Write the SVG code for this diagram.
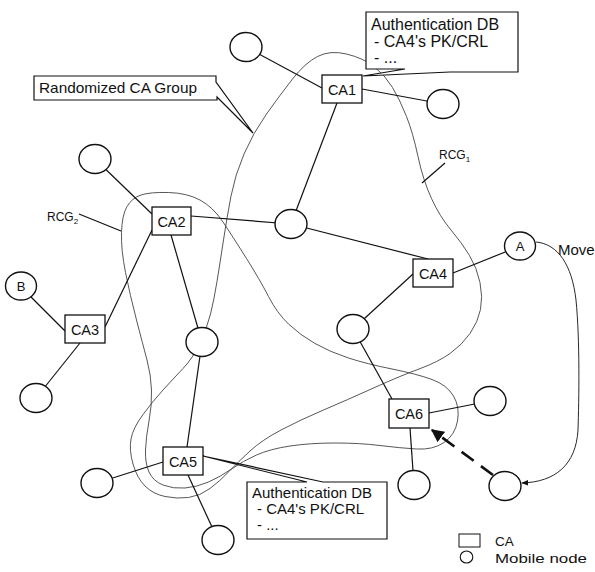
<svg xmlns="http://www.w3.org/2000/svg" width="595" height="572" viewBox="0 0 595 572">
<style>
.bg{fill:#fff}
.grp{fill:none;stroke:#444;stroke-width:0.9}
.edge{stroke:#111;stroke-width:1.2;fill:none}
.node{fill:#fff;stroke:#111;stroke-width:1.4}
.ca{fill:#fff;stroke:#111;stroke-width:1.3}
.call{fill:#fff;stroke:#111;stroke-width:1.2}
text{font-family:"Liberation Sans",Arial,sans-serif;fill:#111}
.lbl{font-size:14.5px;text-anchor:middle}
.db{font-size:15px}
.small{font-size:12px}
</style>
<defs>
<marker id="ah" viewBox="0 0 10 10" refX="9" refY="5" markerWidth="5" markerHeight="5" orient="auto" markerUnits="strokeWidth">
<path d="M0,0 L10,5 L0,10 Z" fill="#111"/>
</marker>
<marker id="ahs" viewBox="0 0 10 10" refX="9" refY="5" markerWidth="7" markerHeight="7" orient="auto" markerUnits="userSpaceOnUse">
<path d="M0,1 L10,5 L0,9 Z" fill="#111"/>
</marker>
</defs>
<rect class="bg" x="0" y="0" width="595" height="572"/>

<g id="groups">
<path id="RCG1" class="grp" d="M317.5,56.5 Q330,50 346.5,54 Q363,58 374,66.5 Q385,75 392.5,87.5 Q400,100 406.5,116.5 Q413,133 418,156.5 Q423,180 431.5,198.5 Q440,217 451,230 Q462,243 469.5,255.5 Q477,268 480,282.5 Q483,297 480.5,309.5 Q478,322 470,333.5 Q462,345 450,353.5 Q438,362 419,369 Q400,376 373.5,388 Q347,400 323.5,410 Q300,420 281,430 Q262,440 250,451 Q238,462 229,471.5 Q220,481 210,488.5 Q200,496 188.5,497.5 Q177,499 165,496.5 Q153,494 145,486 Q137,478 133,464 Q129,450 131,439 Q133,428 143,414.5 Q153,401 163,390 Q173,379 183,368.5 Q193,358 200,343 Q207,328 210.5,314 Q214,300 217,281.5 Q220,263 223.5,240 Q227,217 231,196 Q235,175 244,154 Q253,133 266.5,114 Q280,95 292.5,79 Q305,63 317.5,56.5 Z"/>
<path id="RCG2" class="grp" d="M141,195 Q150,192 168.5,192.5 Q187,193 200,200 Q213,207 223,222 Q233,237 246.5,258.5 Q260,280 268.5,296.5 Q277,313 288.5,324 Q300,335 315,343.5 Q330,352 348.5,358 Q367,364 392,369 Q417,374 432,379.5 Q447,385 453.5,396 Q460,407 457.5,421 Q455,435 444,442.5 Q433,450 416.5,449 Q400,448 380,445.5 Q360,443 335,443 Q310,443 290,446 Q270,449 256.5,455 Q243,461 231.5,469 Q220,477 208.5,482 Q197,487 185,488 Q173,489 163,485 Q153,481 149,472 Q145,463 145.5,450 Q146,437 149,421 Q152,405 151.5,390 Q151,375 147,360 Q143,345 136.5,320 Q130,295 125.5,272.5 Q121,250 121.5,232.5 Q122,215 127,206.5 Q132,198 141,195 Z"/>
</g>

<g id="connectors">
<line class="edge" x1="246" y1="47" x2="322" y2="88"/>
<line class="edge" x1="362" y1="89" x2="443" y2="104"/>
<line class="edge" x1="337" y1="103" x2="291" y2="224"/>
<line class="edge" x1="95" y1="159" x2="152" y2="214"/>
<line class="edge" x1="191" y1="216" x2="291" y2="224"/>
<line class="edge" x1="291" y1="224" x2="428" y2="259"/>
<line class="edge" x1="453" y1="273" x2="520" y2="246"/>
<line class="edge" x1="413" y1="274" x2="353" y2="329"/>
<line class="edge" x1="353" y1="329" x2="392" y2="399"/>
<line class="edge" x1="429" y1="413" x2="490" y2="401"/>
<line class="edge" x1="410" y1="428" x2="414" y2="485"/>
<line class="edge" x1="20" y1="286" x2="65" y2="331"/>
<line class="edge" x1="105" y1="327" x2="152" y2="230"/>
<line class="edge" x1="80" y1="343" x2="36" y2="398"/>
<line class="edge" x1="171" y1="235" x2="202" y2="342"/>
<line class="edge" x1="202" y1="342" x2="187" y2="447"/>
<line class="edge" x1="163" y1="462" x2="97" y2="483"/>
<line class="edge" x1="188" y1="475" x2="218" y2="540"/>
<line class="edge" x1="445" y1="163" x2="422" y2="183"/>
<line class="edge" x1="79" y1="214" x2="121" y2="231"/>
<path class="edge" style="stroke-width:0.9" marker-end="url(#ahs)" d="M536,242 C558,244 572,265 576,300 C580,340 579,400 578,430 C576,465 555,482 522,483"/>
<line x1="493" y1="475" x2="432" y2="430" stroke="#111" stroke-width="2.6" stroke-dasharray="15,9" marker-end="url(#ah)"/>
</g>

<g id="callout-rcg">
<path class="call" d="M34,76 H216 V82 L253,133 L217,97 V100 H34 Z"/>
<text x="39" y="93" style="font-size:15px" textLength="158" lengthAdjust="spacingAndGlyphs">Randomized CA Group</text>
</g>

<g id="authdb-top">
<path class="call" d="M366,12 H518 V72 H450 L363,76 L405,69 H366 Z"/>
<text x="371" y="30" style="font-size:16px">Authentication DB</text>
<text x="374" y="47" style="font-size:16px">- CA4's PK/CRL</text>
<text x="374" y="63" style="font-size:16px">- ...</text>
</g>

<g id="authdb-bottom">
<path class="call" d="M247,482 H307 L203,456 L323,482 H387 V539 H247 Z"/>
<text class="db" x="252" y="498">Authentication DB</text>
<text class="db" x="257" y="514">- CA4's PK/CRL</text>
<text class="db" x="257" y="530">- ...</text>
</g>

<g id="labels">
<text class="small" x="439" y="159">RCG<tspan font-size="8" dy="3">1</tspan></text>
<text class="small" x="47" y="221">RCG<tspan font-size="8" dy="3">2</tspan></text>
<text x="558" y="255" style="font-size:15px">Move</text>
</g>

<g id="n1"><ellipse class="node" cx="246" cy="47" rx="16" ry="14.5"/></g>
<g id="n2"><ellipse class="node" cx="443" cy="104" rx="16" ry="14.5"/></g>
<g id="n3"><ellipse class="node" cx="95" cy="159" rx="16" ry="14.5"/></g>
<g id="n4"><ellipse class="node" cx="291" cy="224" rx="16" ry="14.5"/></g>
<g id="nA"><ellipse class="node" cx="520" cy="246" rx="15.5" ry="14"/><text x="520" y="251" style="font-size:13px;text-anchor:middle">A</text></g>
<g id="nB"><ellipse class="node" cx="21" cy="286" rx="15.5" ry="14"/><text x="21" y="291" style="font-size:13px;text-anchor:middle">B</text></g>
<g id="n5"><ellipse class="node" cx="36" cy="398" rx="16" ry="14.5"/></g>
<g id="n6"><ellipse class="node" cx="202" cy="342" rx="16" ry="14.5"/></g>
<g id="n7"><ellipse class="node" cx="353" cy="329" rx="16" ry="14.5"/></g>
<g id="n8"><ellipse class="node" cx="490" cy="401" rx="16" ry="14.5"/></g>
<g id="n9"><ellipse class="node" cx="414" cy="485" rx="16" ry="14.5"/></g>
<g id="n10"><ellipse class="node" cx="505" cy="486" rx="16" ry="14.5"/></g>
<g id="n11"><ellipse class="node" cx="97" cy="483" rx="16" ry="14.5"/></g>
<g id="n12"><ellipse class="node" cx="218" cy="540" rx="16" ry="14.5"/></g>

<g id="CA1"><rect class="ca" x="322" y="75" width="40" height="28"/><text class="lbl" x="342" y="94.5">CA1</text></g>
<g id="CA2"><rect class="ca" x="152" y="207" width="39" height="28"/><text class="lbl" x="171.5" y="226.5">CA2</text></g>
<g id="CA3"><rect class="ca" x="65" y="315" width="40" height="28"/><text class="lbl" x="85" y="334.5">CA3</text></g>
<g id="CA4"><rect class="ca" x="413" y="259" width="40" height="28"/><text class="lbl" x="433" y="278.5">CA4</text></g>
<g id="CA5"><rect class="ca" x="163" y="447" width="40" height="28"/><text class="lbl" x="183" y="466.5">CA5</text></g>
<g id="CA6"><rect class="ca" x="389" y="399" width="40" height="29"/><text class="lbl" x="409" y="419">CA6</text></g>

<g id="legend">
<rect class="ca" x="459" y="534" width="21" height="13" style="stroke-width:1"/>
<ellipse class="node" cx="466.5" cy="557" rx="6.3" ry="6" style="stroke-width:1.1"/>
<text x="495" y="546" style="font-size:13.5px">CA</text>
<text x="495" y="563" style="font-size:13.5px" textLength="92" lengthAdjust="spacingAndGlyphs">Mobile node</text>
</g>
</svg>
